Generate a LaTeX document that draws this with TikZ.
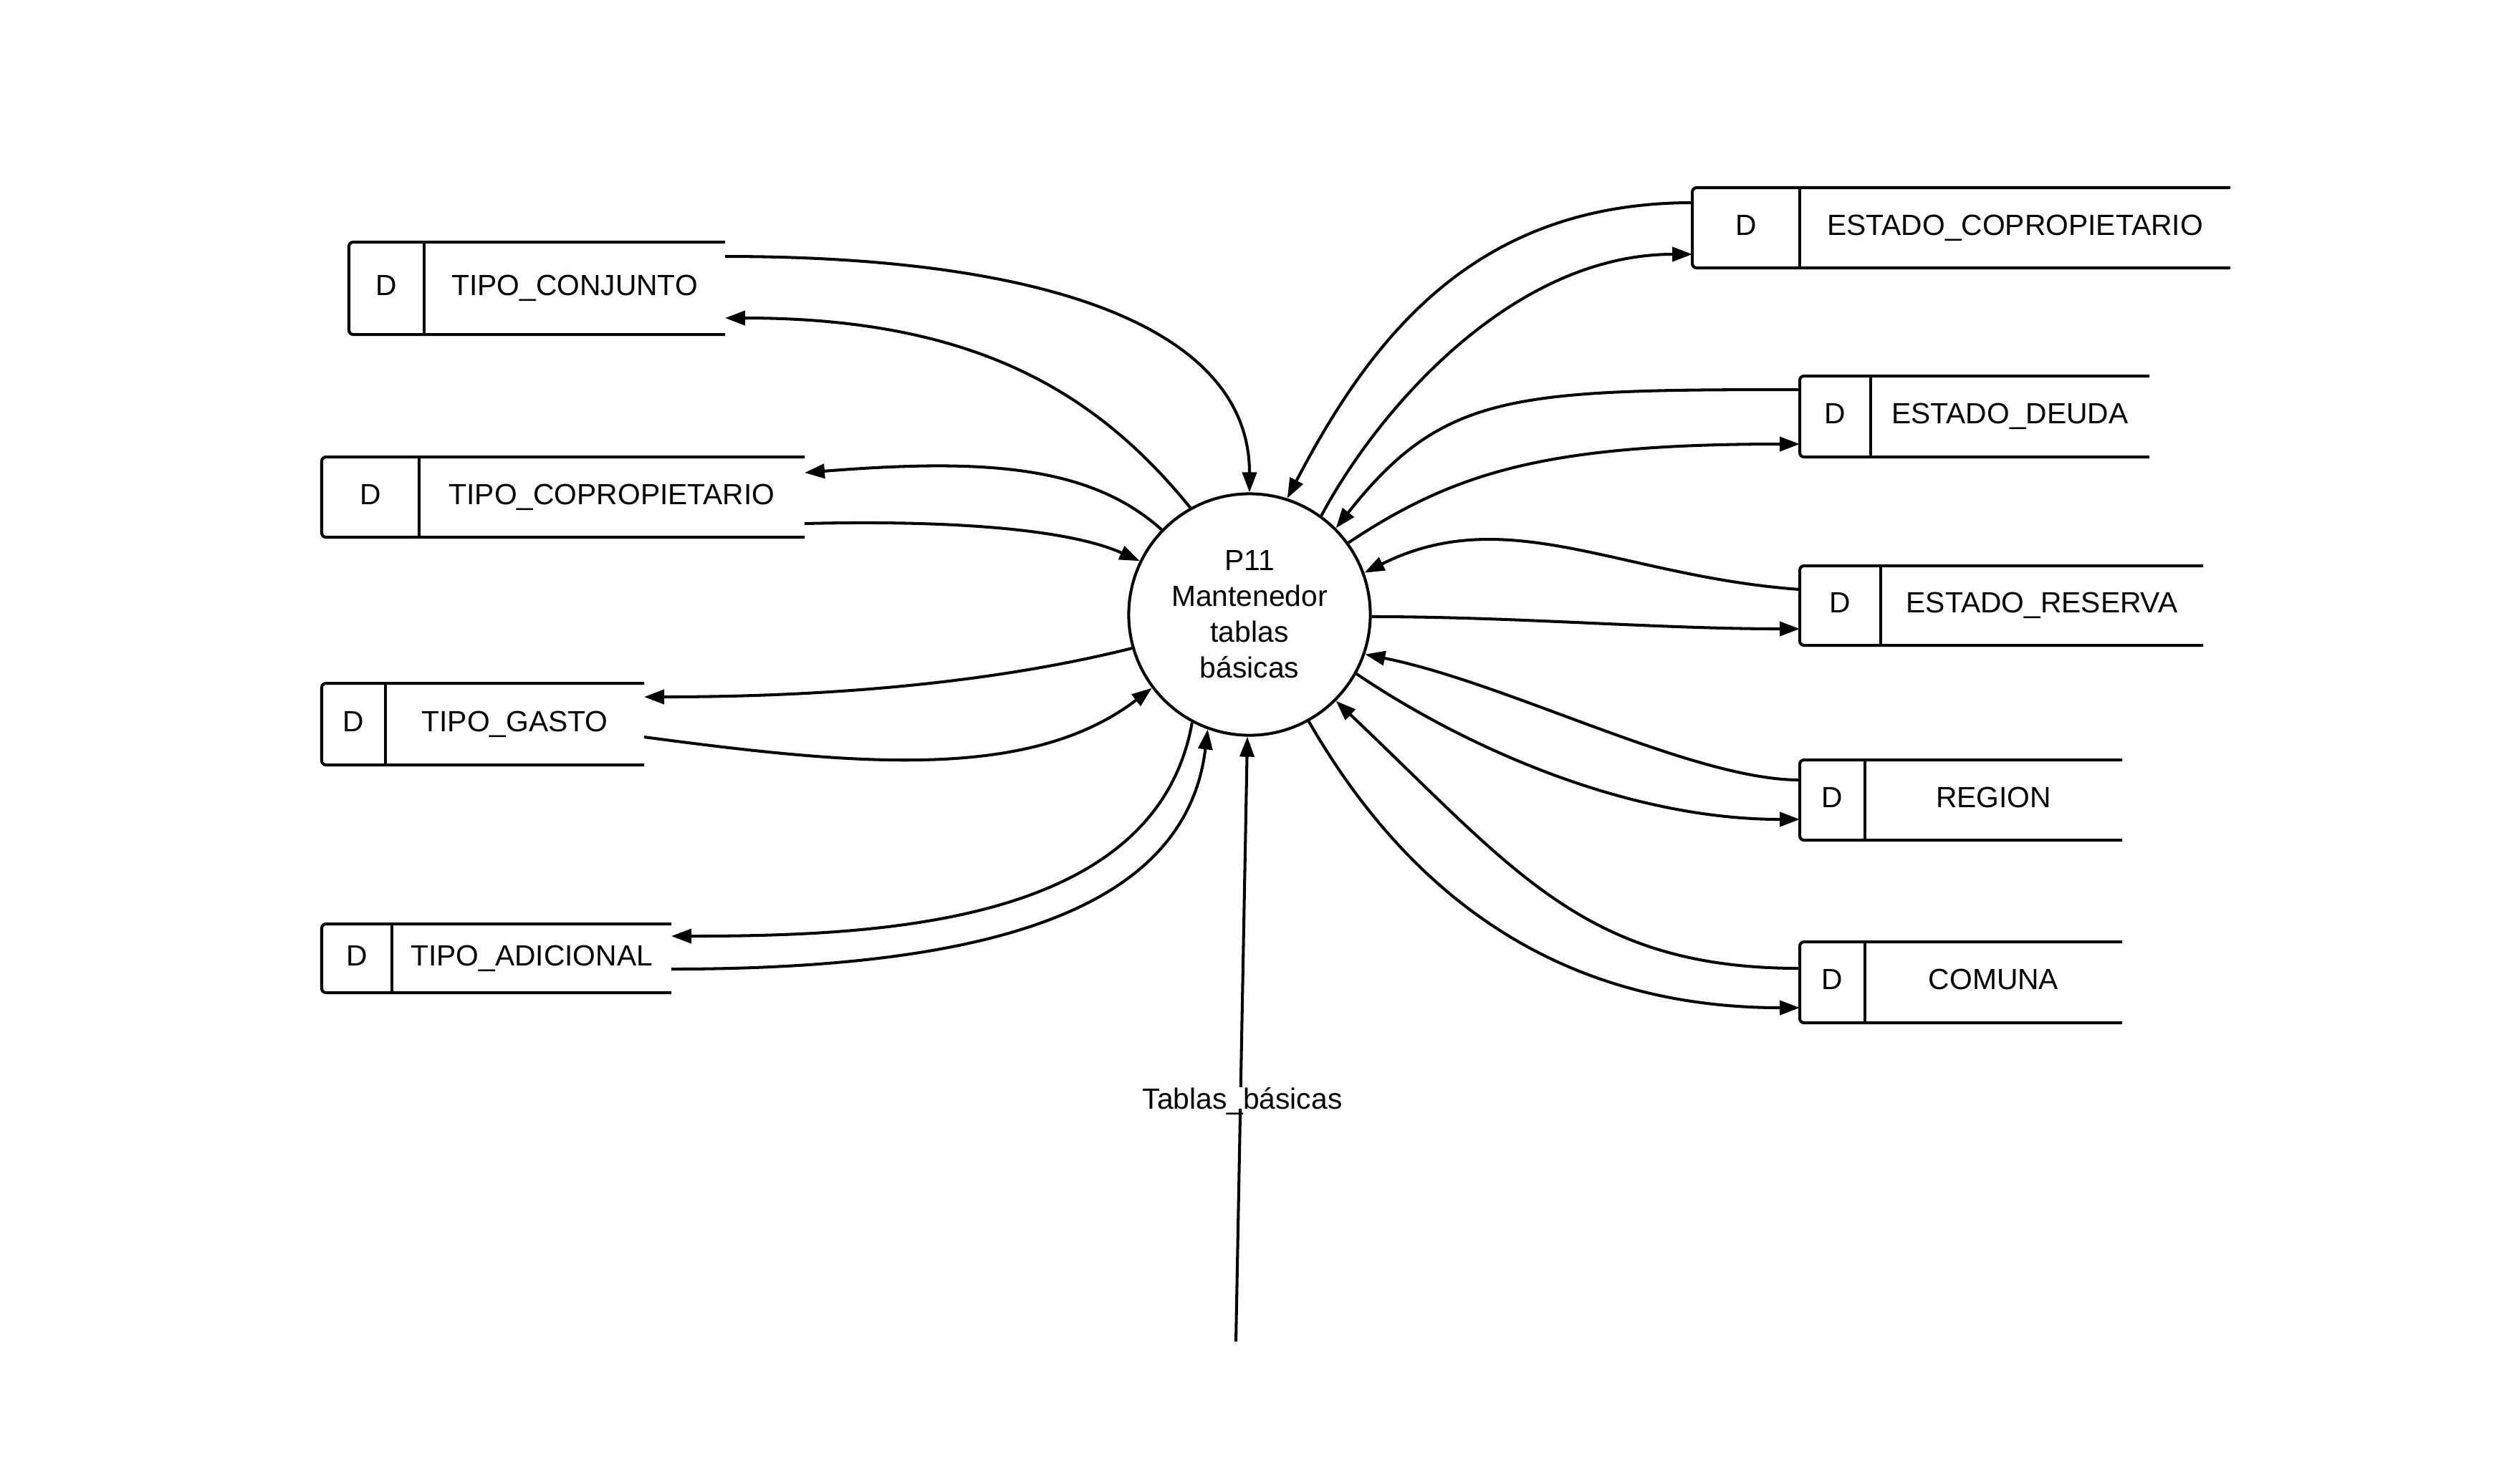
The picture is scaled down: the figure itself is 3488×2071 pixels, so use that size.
\documentclass[tikz,border=0pt]{standalone}
\usepackage{fontspec}
\setmainfont{Liberation Sans}
\usetikzlibrary{arrows.meta}

\tikzset{
  flow/.style={-{Triangle[length=0.28cm,width=0.2cm]}},
  storeline/.style={rounded corners=0.06cm},
  lbl/.style={inner sep=0pt, anchor=base, font=\fontsize{11.6pt}{14.2pt}\selectfont},
  process/.style={circle, draw, minimum size=3.37cm, inner sep=0pt, align=center,
                  font=\fontsize{11.6pt}{14.2pt}\selectfont},
}

% data store: name, left, top, bottom, divider, right, label
\newcommand\datastore[7]{%
  \draw[storeline] (#6,#3) -- (#2,#3) -- (#2,#4) -- (#6,#4);
  \draw (#5,#3) -- (#5,#4);
  \node[lbl] (#1-d) at ({(#2+#5)/2},{(#3+#4)/2+10}) {D};
  \node[lbl] (#1) at ({(#5+#6)/2},{(#3+#4)/2+10}) {#7};
}

\begin{document}
\begin{tikzpicture}[x=0.01cm, y=-0.01cm, line width=1.15pt]
  \useasboundingbox (0,0) rectangle (3488,2071);

  % process
  \node[process] (p11) at (1744,858) {P11\\Mantenedor\\tablas\\básicas};

  % data stores on the left
  \datastore{tc}{487}{338}{467}{592}{1012}{TIPO\_CONJUNTO}
  \datastore{tcop}{449}{638}{750}{585}{1123}{TIPO\_COPROPIETARIO}
  \datastore{tg}{449}{954}{1068}{538}{899}{TIPO\_GASTO}
  \datastore{ta}{449}{1290}{1386}{547}{937}{TIPO\_ADICIONAL}

  % data stores on the right
  \datastore{ec}{2362}{262}{374}{2512}{3113}{ESTADO\_COPROPIETARIO}
  \datastore{ed}{2512}{525}{638}{2611}{3000}{ESTADO\_DEUDA}
  \datastore{er}{2512}{790}{901}{2625}{3075}{ESTADO\_RESERVA}
  \datastore{rg}{2512}{1061}{1173}{2603}{2962}{REGION}
  \datastore{co}{2512}{1315}{1428}{2603}{2962}{COMUNA}

  % flow end points on the stores
  \coordinate (tc-a) at (1012,358);   \coordinate (tc-b) at (1012,444);
  \coordinate (tcop-a) at (1123,660); \coordinate (tcop-b) at (1123,731);
  \coordinate (tg-a) at (899,973);    \coordinate (tg-b) at (899,1029);
  \coordinate (ta-a) at (937,1307);   \coordinate (ta-b) at (937,1353);
  \coordinate (ec-a) at (2362,283);   \coordinate (ec-b) at (2362,355);
  \coordinate (ed-a) at (2512,544);   \coordinate (ed-b) at (2512,620);
  \coordinate (er-a) at (2512,823);   \coordinate (er-b) at (2512,878);
  \coordinate (rg-a) at (2512,1089);  \coordinate (rg-b) at (2512,1144);
  \coordinate (co-a) at (2512,1352);  \coordinate (co-b) at (2512,1407);
  \coordinate (tb-src) at (1725,1873);

  % left flows
  \draw[flow] (tc-a) .. controls +(450,0) and +(0,-230) .. (p11.90);
  \draw[flow] (p11.119) .. controls +(-130,-160) and +(350,0) .. (tc-b);
  \draw[flow] (p11.136) .. controls +(-100,-90) and +(250,-20) .. (tcop-a);
  \draw[flow] (tcop-b) .. controls +(200,-5) and +(-100,-45) .. (p11.154.5);
  \draw[flow] (p11.196) .. controls +(-200,50) and +(250,0) .. (tg-a);
  \draw[flow] (tg-b) .. controls +(300,40) and +(-170,130) .. (p11.217);
  \draw[flow] (p11.242.5) .. controls +(-50,280) and +(300,0) .. (ta-a);
  \draw[flow] (ta-b) .. controls +(450,0) and +(-30,250) .. (p11.250);

  % right flows
  \draw[flow] (ec-a) .. controls +(-300,0) and +(120,-230) .. (p11.72);
  \draw[flow] (p11.54.5) .. controls +(80,-150) and +(-250,0) .. (ec-b);
  \draw[flow] (ed-a) .. controls +(-400,0) and +(150,-190) .. (p11.45);
  \draw[flow] (p11.36) .. controls +(150,-100) and +(-350,0) .. (ed-b);
  \draw[flow] (er-a) .. controls +(-250,-18) and +(200,-100) .. (p11.20);
  \draw[flow] (p11.-1) .. controls +(200,0) and +(-200,0) .. (er-b);
  \draw[flow] (rg-a) .. controls +(-150,0) and +(200,40) .. (p11.-19.5);
  \draw[flow] (p11.-29.3) .. controls +(140,95) and +(-250,0) .. (rg-b);
  \draw[flow] (co-a) .. controls +(-300,0) and +(250,237) .. (p11.-45.7);
  \draw[flow] (p11.-61.5) .. controls +(160,278) and +(-300,0) .. (co-b);

  % incoming flow from below
  \draw[flow] (tb-src) -- (p11.269.3);
  \node[lbl, fill=white, text depth=0pt] (tbl) at (1734,1548) {Tablas\_básicas};
\end{tikzpicture}
\end{document}
